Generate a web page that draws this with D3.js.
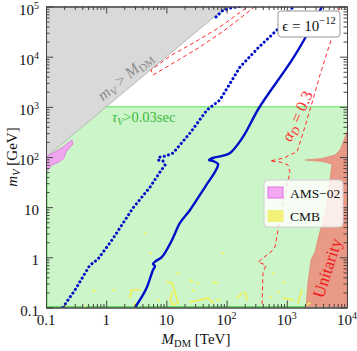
<!DOCTYPE html>
<html>
<head>
<meta charset="utf-8">
<script src="https://cdn.jsdelivr.net/npm/d3@7"></script>
<style>
  body { margin: 0; background: #fff; }
  text { font-family: "Liberation Serif", "DejaVu Serif", serif; }
</style>
</head>
<body>
<svg id="chart" width="357" height="351"></svg>
<script>
// Tick values and labels
const xMajor = [0.1, 1, 10, 100, 1000, 10000];
const xLabels = ["0.1", "1", "10", "10^2", "10^3", "10^4"];
const yMajor = [0.1, 1, 10, 100, 1000, 10000, 100000];
const yLabels = ["0.1", "1", "10", "10^2", "10^3", "10^4", "10^5"];

// Regions  [M_DM (TeV), m_V (GeV)]
const heavyMediator = [[0.1, 100], [100, 1e5], [0.1, 1e5]];
const lifetimeRegion = [[0.1, 0.1], [1e4, 0.1], [1e4, 1000], [1, 1000], [0.1, 100]];
const unitarity = [[1e4, 315], [8910, 218], [7660, 138], [6320, 110], [3850, 93.4], [2000, 87.1],
  [3850, 81.4], [5630, 72.6], [5220, 34.8], [4480, 8.79], [3430, 2.79], [2940, 1.28],
  [2520, 0.885], [2430, 0.614], [2250, 0.323], [2080, 0.1], [1e4, 0.1]];
const ams02 = [[0.1, 100], [0.141, 126], [0.191, 158], [0.27, 218], [0.281, 182], [0.215, 126],
  [0.199, 95.5], [0.164, 79.4], [0.126, 69.3], [0.1, 50.2]];
const cmb = [
  [[4.41, 3.05], [4.6, 2.9]], [[5.35, 1.22], [5.6, 1.2]], [[83.9, 1.22], [88, 1.2]],
  [[15.0, 0.488], [16, 0.47]],
  [[10.2, 0.323], [12.4, 0.308], [13.9, 0.2], [15.6, 0.123], [12.9, 0.112], [11.5, 0.141], [12.4, 0.2]],
  [[24.7, 0.354], [27, 0.33]], [[32.2, 0.308], [34, 0.3]], [[59.4, 0.323], [69.3, 0.308]],
  [[2.48, 0.155], [2.6, 0.223], [3.64, 0.223]], [[2.9, 0.112], [3.01, 0.123]],
  [[24.7, 0.129], [36.1, 0.141], [49.1, 0.155], [59.4, 0.123]], [[69.3, 0.141], [77.6, 0.141]],
  [[149, 0.155], [180, 0.195]], [[7.24, 0.141], [7.6, 0.135]], [[1.3, 0.223], [1.4, 0.22]],
  [[0.412, 0.1], [0.45, 0.105]], [[27.7, 0.223], [29, 0.215]], [[590, 0.488], [620, 0.46]],
  [[865, 0.323], [900, 0.31]], [[202, 0.204], [218, 0.141]], [[865, 0.155], [1270, 0.141]],
  [[1790, 0.223], [1530, 0.123]], [[2430, 0.123], [2200, 0.115]], [[526, 0.162], [560, 0.16]],
  [[714, 0.204], [750, 0.2]], [[0.604, 0.223], [0.65, 0.21]]
];

// Relic-density curves
const dottedCurve = [[0.19, 0.1], [0.303, 0.223], [0.538, 0.704], [0.604, 0.772], [0.731, 0.927],
  [1.25, 2.22], [2.79, 9.64], [5.35, 25.2], [7.83, 50.2], [9.48, 69.3], [8.79, 83.2], [7.24, 87],
  [7.83, 100], [9.84, 105], [12.9, 120], [24.7, 301], [47.2, 865], [77.6, 1370], [167, 6220],
  [332, 14900], [687, 34000], [1270, 1e5]];
const dottedTop = [[66.7, 61800], [84, 81300], [114, 93300], [167, 1e5]];
const solidCurve = [[3.01, 0.1], [4.08, 0.178], [4.76, 0.257], [5.99, 0.56], [6.47, 0.673],
  [5.99, 0.737], [6.71, 0.846], [8.45, 1.02], [12.4, 2.22], [16.8, 4.84], [24.7, 8.8], [43.8, 25.2],
  [66.7, 55.1], [72, 72.6], [59.4, 83.3], [51, 87.1], [59.4, 95.5], [84, 105], [114, 120],
  [187, 251], [345, 948], [1220, 8590], [2250, 29600], [3850, 1e5]];

// alpha_D = 0.3 contours
const alphaMain = [[7660, 1e5], [5630, 24700], [3560, 4310], [2620, 1190], [1860, 301], [1480, 126],
  [1220, 115], [898, 95.5], [526, 83.2], [771, 79.4], [1047, 69.3], [1130, 50.2], [898, 13.9],
  [714, 3.51], [637, 1.61], [568, 1.34], [332, 0.807], [451, 0.703], [402, 0.488], [387, 0.1]];
const alphaTop = [[297, 1e5], [94, 34000], [36.1, 15600], [13.9, 7830], [5.99, 4310], [5.55, 5420],
  [11.5, 10300], [29.9, 19600], [77.6, 39000], [227, 1e5]];

const svg = d3.select("#chart");
const x = d3.scaleLog().domain([0.1, 1e4]).range([46, 347]);
const y = d3.scaleLog().domain([0.1, 1e5]).range([307.5, 6.5]);

svg.append("clipPath").attr("id", "plot")
  .append("rect").attr("x", 46).attr("y", 6.5).attr("width", 301).attr("height", 301);

const g = svg.append("g").attr("clip-path", "url(#plot)");
const line = d3.line().x(d => x(d[0])).y(d => y(d[1]));
const poly = d => line(d) + "Z";

// Lifetime region
g.append("path").attr("d", poly(lifetimeRegion)).attr("fill", "#ccf5c9");
g.append("path").attr("d", line([[1, 1000], [1e4, 1000]]))
  .attr("stroke", "#86ee86").attr("stroke-width", 1.5).attr("fill", "none");
g.append("path").attr("d", line([[0.1, 100], [0.1, 0.1], [1e4, 0.1]]))
  .attr("stroke", "#5ce05c").attr("stroke-width", 3).attr("fill", "none");

// m_V > M_DM
g.append("path").attr("d", poly(heavyMediator)).attr("fill", "#d9d9d9")
  .attr("stroke", "#a8a8a8").attr("stroke-width", 0.8);

// Unitarity
g.append("path").attr("d", poly(unitarity)).attr("fill", "#e99a86")
  .attr("stroke", "#e07a68").attr("stroke-width", 0.6);

// AMS-02
g.append("path").attr("d", poly(ams02)).attr("fill", "#eea6ee")
  .attr("stroke", "#e070e0").attr("stroke-width", 0.8);

// CMB
g.selectAll(".cmb").data(cmb).join("path")
  .attr("d", line).attr("fill", "none")
  .attr("stroke", "#f0f050").attr("stroke-width", 1.6).attr("stroke-linecap", "round");

// alpha_D contours
[alphaMain, alphaTop].forEach(c => {
  g.append("path").attr("d", line(c)).attr("fill", "none")
    .attr("stroke", "#ff2a2a").attr("stroke-width", 1).attr("stroke-dasharray", "4 3");
});

// Blue curves
g.append("path").attr("d", line.curve(d3.curveCatmullRom)(solidCurve)).attr("fill", "none")
  .attr("stroke", "#0010c8").attr("stroke-width", 2.4);
line.curve(d3.curveLinear);
[dottedCurve, dottedTop].forEach(c => {
  g.append("path").attr("d", line(c)).attr("fill", "none")
    .attr("stroke", "#0010c8").attr("stroke-width", 3).attr("stroke-linecap", "round")
    .attr("stroke-dasharray", "0.1 4.3");
});

// In-plot labels
g.append("text").attr("transform", "translate(125,76) rotate(-39.8)")
  .attr("text-anchor", "middle").attr("dy", "0.35em").attr("fill", "#8c8c8c")
  .style("font-size", "16px")
  .call(t => {
    t.append("tspan").attr("font-style", "italic").text("m");
    t.append("tspan").attr("font-style", "italic").attr("font-size", "11px").attr("dy", 3).text("V");
    t.append("tspan").attr("dy", -3).text(" > ");
    t.append("tspan").attr("font-style", "italic").text("M");
    t.append("tspan").attr("font-size", "11px").attr("dy", 3).text("DM");
  });

g.append("text").attr("x", 112).attr("y", 122).attr("fill", "#3cba3c")
  .style("font-size", "14.5px")
  .call(t => {
    t.append("tspan").attr("font-style", "italic").text("τ");
    t.append("tspan").attr("font-style", "italic").attr("font-size", "10px").attr("dy", 3).text("V");
    t.append("tspan").attr("dy", -3).text(">0.03sec");
  });

g.append("text").attr("transform", "translate(297,116) rotate(-65.6)")
  .attr("text-anchor", "middle").attr("dy", "0.35em").attr("fill", "#ff2a2a")
  .style("font-size", "16px")
  .call(t => {
    t.append("tspan").attr("font-style", "italic").text("α");
    t.append("tspan").attr("font-style", "italic").attr("font-size", "11px").attr("dy", 3).text("D");
    t.append("tspan").attr("dy", -3).text(" = 0.3");
  });

g.append("text").attr("transform", "translate(327,268) rotate(-72)")
  .attr("text-anchor", "middle").attr("dy", "0.35em").attr("fill", "#ee1a1a")
  .style("font-size", "17px").text("Unitarity");

// Axes (ticks on all four sides, pointing inward)
const minors = dom => {
  const out = [];
  for (let d = dom[0]; d < dom[1]; d *= 10) for (let k = 2; k <= 9; k++) out.push(d * k);
  return out;
};
const tickStyle = sel => {
  sel.select(".domain").attr("stroke", "#444");
  sel.selectAll(".tick line").attr("stroke", "#444");
  sel.selectAll(".tick text").remove();
};
const axes = [
  [d3.axisBottom(x), x, "translate(0,307.5)"], [d3.axisTop(x), x, "translate(0,6.5)"],
  [d3.axisLeft(y), y, "translate(46,0)"], [d3.axisRight(y), y, "translate(347,0)"]
];
axes.forEach(([ax, sc, tr]) => {
  const major = sc === x ? xMajor : yMajor;
  svg.append("g").attr("transform", tr)
    .call(ax.tickValues(minors(sc.domain())).tickSize(-3.5).tickSizeOuter(0)).call(tickStyle);
  svg.append("g").attr("transform", tr)
    .call(ax.tickValues(major).tickSize(-7).tickSizeOuter(0)).call(tickStyle);
});

const writeLabel = (t, s, up) => {
  const [base, exp] = s.split("^");
  t.append("tspan").text(base);
  if (exp) t.append("tspan").attr("font-size", "10px").attr("dy", -up).text(exp);
};
svg.selectAll(".xl").data(xMajor).join("text")
  .attr("x", d => x(d)).attr("y", 325).attr("text-anchor", "middle")
  .style("font-size", "15px").attr("fill", "#111")
  .each(function (d, i) { writeLabel(d3.select(this), xLabels[i], 6.5); });
svg.selectAll(".yl").data(yMajor).join("text")
  .attr("x", 39).attr("y", d => y(d) + 8).attr("text-anchor", "end")
  .style("font-size", "15px").attr("fill", "#111")
  .each(function (d, i) { writeLabel(d3.select(this), yLabels[i], 5.5); });

// Axis titles
svg.append("text").attr("x", 196).attr("y", 344).attr("text-anchor", "middle")
  .style("font-size", "15px").attr("fill", "#111")
  .call(t => {
    t.append("tspan").attr("font-style", "italic").text("M");
    t.append("tspan").attr("font-size", "10.5px").attr("dy", 3).text("DM");
    t.append("tspan").attr("dy", -3).text(" [TeV]");
  });
svg.append("text").attr("transform", "translate(17,157) rotate(-90)").attr("text-anchor", "middle")
  .style("font-size", "15px").attr("fill", "#111")
  .call(t => {
    t.append("tspan").attr("font-style", "italic").text("m");
    t.append("tspan").attr("font-style", "italic").attr("font-size", "10.5px").attr("dy", 3).text("V");
    t.append("tspan").attr("dy", -3).text(" [GeV]");
  });

// Epsilon box
svg.append("rect").attr("x", 278).attr("y", 11).attr("width", 62).attr("height", 26).attr("rx", 3)
  .attr("fill", "#fff").attr("stroke", "#999");
svg.append("text").attr("x", 309).attr("y", 31).attr("text-anchor", "middle")
  .style("font-size", "15px").attr("fill", "#111")
  .call(t => {
    t.append("tspan").text("ϵ = 10");
    t.append("tspan").attr("font-size", "10.5px").attr("dy", -7).text("−12");
  });

// Legend
const legendItems = ["AMS−02", "CMB"];
const legendFill = ["#f4a8f4", "#f2f27a"];
const legendStroke = ["#e070e0", "#f2f27a"];
const legend = svg.append("g").attr("transform", "translate(264,180)");
legend.append("rect").attr("width", 79).attr("height", 47).attr("rx", 4)
  .attr("fill", "#fff").attr("fill-opacity", 0.82).attr("stroke", "#d0d0d0");
legendItems.forEach((name, i) => {
  legend.append("rect").attr("x", 4).attr("y", 7 + i * 23.5).attr("width", 15).attr("height", 11)
    .attr("fill", legendFill[i]).attr("stroke", legendStroke[i]);
  legend.append("text").attr("x", 26).attr("y", 17.5 + i * 23.5)
    .style("font-size", "13.5px").attr("fill", "#111").text(name);
});
</script>
</body>
</html>
